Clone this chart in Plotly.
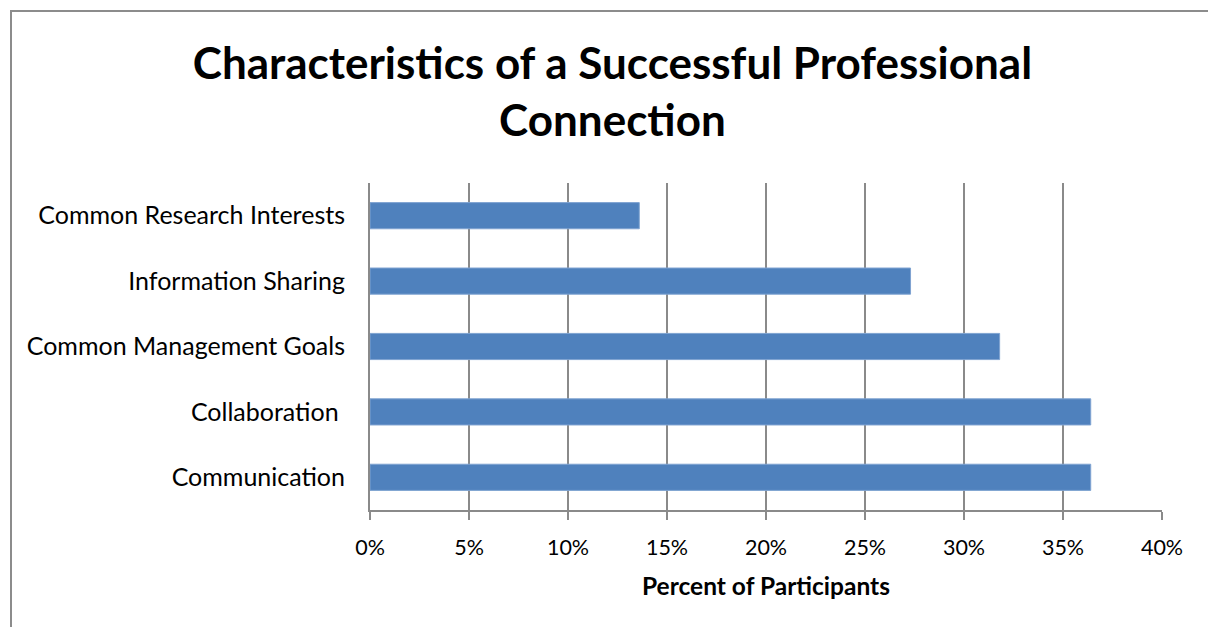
import plotly.graph_objects as go

# Survey results: share of participants naming each characteristic
categories = [
    "Communication",
    "Collaboration\u00a0",
    "Common Management Goals",
    "Information Sharing",
    "Common Research Interests",
]
percent = [0.364, 0.364, 0.318, 0.273, 0.136]

tick_values = [0, 0.05, 0.10, 0.15, 0.20, 0.25, 0.30, 0.35, 0.40]
tick_labels = ["0%", "5%", "10%", "15%", "20%", "25%", "30%", "35%", "40%"]

W, H = 1208, 627
L, R, T, B = 370, 46, 183, 117
grid_color = "#8a8a8a"
font_family = "Lato, 'Open Sans', sans-serif"

fig = go.Figure(
    go.Bar(
        x=percent,
        y=categories,
        orientation="h",
        width=0.4,
        marker=dict(color="#4F81BD", line=dict(color="#7fa3d1", width=1)),
        hoverinfo="x+y",
    )
)

fig.update_layout(
    width=W,
    height=H,
    margin=dict(l=L, r=R, t=T, b=B),
    paper_bgcolor="white",
    plot_bgcolor="white",
    showlegend=False,
    font=dict(family=font_family, color="black"),
    title=dict(
        text="<b>Characteristics of a Successful Professional<br>Connection</b>",
        x=0.507,
        xanchor="center",
        y=0.874,
        yanchor="middle",
        font=dict(size=44, family=font_family, color="black"),
    ),
    xaxis=dict(
        range=[0, 0.40],
        tickvals=tick_values,
        ticktext=tick_labels,
        tickfont=dict(size=21.5),
        showgrid=True,
        gridcolor=grid_color,
        gridwidth=2,
        showline=True,
        linecolor=grid_color,
        linewidth=2,
        ticks="outside",
        ticklen=8,
        tickwidth=2,
        tickcolor=grid_color,
        ticklabelstandoff=9,
        zeroline=False,
        title=dict(
            text="<b>Percent of Participants</b>",
            font=dict(size=24.5),
            standoff=19,
        ),
        fixedrange=True,
    ),
    yaxis=dict(
        categoryorder="array",
        categoryarray=categories,
        tickfont=dict(size=25),
        showline=True,
        linecolor=grid_color,
        linewidth=2,
        ticks="",
        ticklabelstandoff=18,
        showgrid=False,
        zeroline=False,
        fixedrange=True,
    ),
    shapes=[
        # frame around the chart area
        dict(
            type="rect",
            xref="paper",
            yref="paper",
            x0=(11 - L) / (W - L - R),
            x1=(W + 10 - L) / (W - L - R),
            y0=(H - B - (H + 10)) / (H - T - B),
            y1=(H - B - 11) / (H - T - B),
            line=dict(color="#8c8c8c", width=2),
            fillcolor="rgba(0,0,0,0)",
            layer="below",
        )
    ],
)

fig.write_html("out.html")
